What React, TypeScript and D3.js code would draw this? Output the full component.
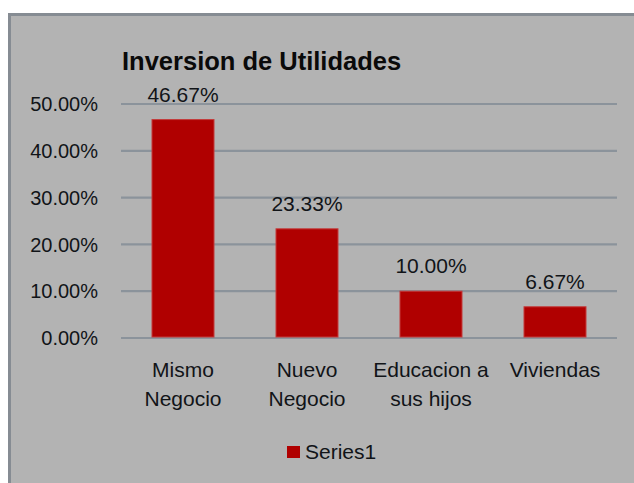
import React from "react";
import * as d3 from "d3";

const categories = ["Mismo Negocio", "Nuevo Negocio", "Educacion a sus hijos", "Viviendas"];
const categoryLines = [["Mismo", "Negocio"], ["Nuevo", "Negocio"], ["Educacion a", "sus hijos"], ["Viviendas"]];
const values = [0.4667, 0.2333, 0.1, 0.0667];
const yTicks = [0, 0.1, 0.2, 0.3, 0.4, 0.5];
const title = "Inversion de Utilidades";
const seriesName = "Series1";

const W = 634;
const H = 483;
const FONT = "'Liberation Sans', Arial, sans-serif";
const TEXT = "#111418";

export default function App() {
  const x = d3.scaleBand<string>().domain(categories).range([121, 617]).paddingInner(0.5).paddingOuter(0.25);
  const y = d3.scaleLinear().domain([0, 0.5]).range([338, 104]);
  const fmt = (v: number) => (v * 100).toFixed(2) + "%";

  return (
    <svg width={W} height={H} style={{ position: "absolute", left: 0, top: 0 }} fontFamily={FONT}>
      <rect x={0} y={0} width={W} height={H} fill="#ffffff" />
      <rect x={8} y={13} width={W - 8} height={H - 13} fill="#b3b3b3" />
      <line x1={8} x2={W} y1={14.5} y2={14.5} stroke="#868c93" strokeWidth={3} />
      <line x1={9.5} x2={9.5} y1={13} y2={H} stroke="#868c93" strokeWidth={3} />

      <text x={122} y={70} fontSize={25.5} fontWeight="bold" fill="#0a0a0a">{title}</text>

      {yTicks.map((t) => (
        <g key={t}>
          <line x1={121} x2={617} y1={y(t)} y2={y(t)} stroke="#8b939b" strokeWidth={2.2} />
          <text x={98} y={y(t)} dy="0.36em" textAnchor="end" fontSize={20} fill={TEXT}>{fmt(t)}</text>
        </g>
      ))}

      {categories.map((c, i) => (
        <g key={c}>
          <rect
            x={x(c)!}
            y={y(values[i])}
            width={x.bandwidth()}
            height={y(0) - y(values[i]) - 1}
            fill="#b00000"
            stroke="#c43a3a"
            strokeWidth={1}
          />
          <text x={x(c)! + x.bandwidth() / 2} y={y(values[i]) - 18} textAnchor="middle" fontSize={21} fill={TEXT}>
            {fmt(values[i])}
          </text>
          {categoryLines[i].map((ln, j) => (
            <text key={j} x={x(c)! + x.bandwidth() / 2} y={377 + j * 29} textAnchor="middle" fontSize={21} fill={TEXT}>
              {ln}
            </text>
          ))}
        </g>
      ))}

      <rect x={287} y={446} width={13} height={12} fill="#b00000" />
      <text x={305} y={459} fontSize={21} fill={TEXT}>{seriesName}</text>
    </svg>
  );
}
